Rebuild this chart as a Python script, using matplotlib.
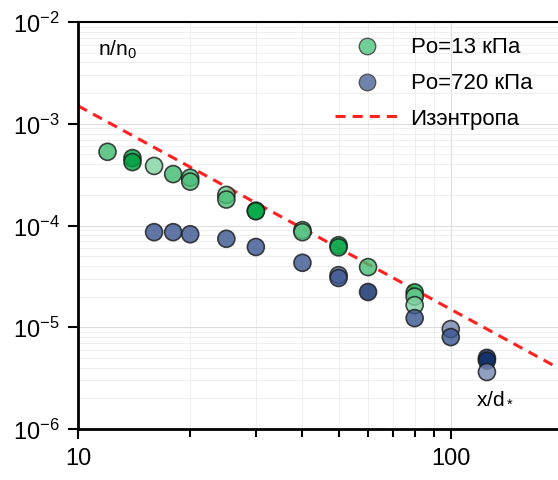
import math
import matplotlib
matplotlib.use("Agg")
import matplotlib.pyplot as plt
from matplotlib.ticker import FixedLocator, FuncFormatter, NullFormatter

plt.rcParams["font.family"] = ["Liberation Sans", "DejaVu Sans"]
plt.rcParams["mathtext.default"] = "regular"
plt.rcParams["axes.unicode_minus"] = False

# Po = 13 кПа
g_x = [12, 14, 14, 16, 18, 20, 20, 25, 25, 30, 30, 40, 40, 50, 50, 60, 80, 80, 80]
g_y = [5.3e-4, 4.6e-4, 4.2e-4, 3.85e-4, 3.2e-4, 2.95e-4, 2.7e-4, 2.0e-4, 1.8e-4,
       1.4e-4, 1.38e-4, 9.0e-5, 8.6e-5, 6.4e-5, 6.1e-5, 3.9e-5, 2.2e-5, 2.0e-5, 1.65e-5]
g_c = ["#3dba6e", "#00a040", "#00a040", "#80d3a0", "#3dba6e", "#4cbf78", "#4cbf78",
       "#6cc991", "#4cbf78", "#00a845", "#00a845", "#58c384", "#58c384", "#10aa4e",
       "#10aa4e", "#45bd73", "#00a845", "#6cc991", "#80d3a0"]

# Po = 720 кПа
b_x = [16, 18, 20, 25, 30, 40, 50, 50, 60, 80, 100, 100, 125, 125, 125]
b_y = [8.6e-5, 8.6e-5, 8.2e-5, 7.4e-5, 6.15e-5, 4.3e-5, 3.25e-5, 3.05e-5, 2.22e-5,
       1.23e-5, 9.6e-6, 8.0e-6, 5.0e-6, 4.7e-6, 3.63e-6]
b_c = ["#3a5590", "#3a5590", "#3a5590", "#3a5590", "#3a5590", "#3a5590", "#6878a6",
       "#3a5590", "#0c2a66", "#3a5590", "#7586b0", "#3a5590", "#0c2a66", "#0c2a66",
       "#7586b0"]

# изэнтропа
iso_x = [10, 200]
iso_y = [1.5e-3, 3.75e-6]

fig = plt.figure(figsize=(5.58, 4.81), dpi=100)
ax = fig.add_axes([78 / 558, 51 / 481, 485 / 558, 407 / 481])
ax.set_xscale("log")
ax.set_yscale("log")
ax.set_xlim(10, 200)
ax.set_ylim(1e-6, 1e-2)

ax.grid(True, which="major", color="#dedede", lw=0.8, zorder=0)
ax.grid(True, which="minor", color="#eeeeee", lw=0.7, zorder=0)
ax.set_axisbelow(True)

ax.plot(iso_x, iso_y, color="#ff2020", lw=2.2, ls=(0, (3.3, 2.3)), zorder=2)
ax.scatter(g_x, g_y, s=150, c=g_c, edgecolors="#1a1a1a", linewidths=1.2,
           alpha=0.8, zorder=3)
ax.scatter(b_x, b_y, s=150, c=b_c, edgecolors="#1a1a1a", linewidths=1.2,
           alpha=0.8, zorder=3)

# легенда
h1 = ax.scatter([], [], s=140, c="#6fcf97", edgecolors="#555555", linewidths=1.0)
h2 = ax.scatter([], [], s=140, c="#7083ad", edgecolors="#555555", linewidths=1.0)
h3, = ax.plot([], [], color="#ff2020", lw=2.2, ls=(0, (3.3, 2.3)))
fig.legend([h1, h2, h3], ["Po=13 кПа", "Po=720 кПа", "Изэнтропа"],
           loc="upper left", bbox_to_anchor=(335 / 558, 1 - 37 / 481),
           frameon=False, fontsize=16, handlelength=2.9, handletextpad=0.5,
           labelspacing=0.68, borderpad=0, borderaxespad=0, scatterpoints=1)

ax.text(0.041, 0.934, "n/n$_0$", transform=ax.transAxes, fontsize=15,
        ha="left", va="center")
ax.text(0.90, 0.079, "x/d$_*$", transform=ax.transAxes, fontsize=15,
        ha="right", va="center")

ax.yaxis.set_major_locator(FixedLocator([1e-6, 1e-5, 1e-4, 1e-3, 1e-2]))
ax.yaxis.set_major_formatter(FuncFormatter(lambda v, p: "$10^{%d}$" % round(math.log10(v))))
ax.yaxis.set_minor_formatter(NullFormatter())
ax.tick_params(axis="y", which="minor", length=0)
ax.xaxis.set_major_locator(FixedLocator([10, 100]))
ax.xaxis.set_major_formatter(FuncFormatter(lambda v, p: "%d" % v))
ax.xaxis.set_minor_formatter(NullFormatter())

ax.tick_params(axis="both", which="major", direction="out", length=7, width=1.5,
               labelsize=17, pad=6)
ax.tick_params(axis="x", which="minor", direction="out", length=6, width=1.5)

for side in ["left", "bottom"]:
    ax.spines[side].set_linewidth(2)
ax.spines["top"].set_linewidth(1.5)
ax.spines["right"].set_linewidth(1.5)

fig.savefig("out.png", dpi=100)
